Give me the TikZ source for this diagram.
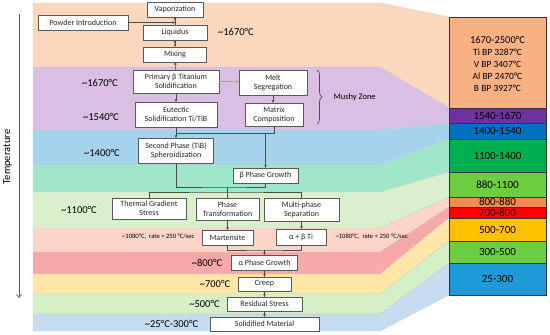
\documentclass[tikz,border=0pt]{standalone}
\usepackage{fontspec}
\setmainfont{Carlito}
\usetikzlibrary{arrows.meta,decorations.pathreplacing}

% band colours (left) and range colours (right)
\definecolor{bandA}{HTML}{FBD7BD}
\definecolor{bandB}{HTML}{D8BFE3}
\definecolor{bandC}{HTML}{A6D3EC}
\definecolor{bandD}{HTML}{A0E6CB}
\definecolor{bandE}{HTML}{DAF0CC}
\definecolor{bandF}{HTML}{FCD5C8}
\definecolor{bandG}{HTML}{F8A8A8}
\definecolor{bandH}{HTML}{FEE6A6}
\definecolor{bandI}{HTML}{D5EFC6}
\definecolor{bandJ}{HTML}{C5DDEF}
\definecolor{rangeA}{HTML}{F8B183}
\definecolor{rangeB}{HTML}{7030A0}
\definecolor{rangeC}{HTML}{0070C0}
\definecolor{rangeD}{HTML}{00B050}
\definecolor{rangeE}{HTML}{6DCD41}
\definecolor{rangeF}{HTML}{F58A4F}
\definecolor{rangeG}{HTML}{FF0000}
\definecolor{rangeH}{HTML}{FFC000}
\definecolor{rangeI}{HTML}{6DCD41}
\definecolor{rangeJ}{HTML}{1E9AD9}

\tikzset{
  stage/.style={draw=black!65,fill=white,align=center,inner sep=1pt,
    font=\fontsize{8}{9}\selectfont,text=black!85},
  link/.style={draw=black!70,line width=0.5pt},
  flow/.style={link,-{Triangle[length=2.4pt,width=2.4pt]}},
  templbl/.style={font=\fontsize{10.5}{12}\selectfont},
  ratelbl/.style={font=\fontsize{6.6}{8}\selectfont},
  rangelbl/.style={font=\fontsize{11}{12}\selectfont},
}

\begin{document}
\begin{tikzpicture}[x=1pt,y=-1pt]
\useasboundingbox (0,0) rectangle (550,335);
% temperature bands
\foreach \lt/\lb/\rt/\rb/\bc/\rc in {3/67/17/108/bandA/rangeA, 67/130/108/123/bandB/rangeB,
  130/165/123/139/bandC/rangeC, 165/192/139/172/bandD/rangeD, 192/228/172/197/bandE/rangeE,
  228/252/197/207/bandF/rangeF, 252/274/207/218/bandG/rangeG, 274/294/218/241/bandH/rangeH,
  294/314/241/263/bandI/rangeI, 314/331/263/295/bandJ/rangeJ}{
  \filldraw[fill=\bc,draw=black!20,line width=0.3pt] (33,\lt) -- (380,\lt) -- (449,\rt) -- (449,\rb) -- (380,\lb) -- (33,\lb) -- cycle;
}
\foreach \rt/\rb/\rc in {17/108/rangeA, 108/123/rangeB, 123/139/rangeC, 139/172/rangeD, 172/197/rangeE,
  197/207/rangeF, 207/218/rangeG, 218/241/rangeH, 241/263/rangeI, 263/295/rangeJ}{
  \filldraw[fill=\rc,draw=black!80,line width=0.6pt] (449,\rt) rectangle (546,\rb);
}
% range labels
\node[align=center,font=\fontsize{9.5}{12}\selectfont] (rA) at (497.5,64) {{\fontsize{10.5}{12}\selectfont 1670-2500°C}\\Ti BP 3287°C\\V BP 3407°C\\Al BP 2470°C\\B BP 3927°C};
\node[rangelbl] (rB) at (497.5,115.5) {1540-1670};
\node[rangelbl] (rC) at (497.5,131) {1400-1540};
\node[rangelbl] (rD) at (497.5,155.5) {1100-1400};
\node[rangelbl] (rE) at (497.5,184.5) {880-1100};
\node[rangelbl] (rF) at (497.5,202) {800-880};
\node[rangelbl] (rG) at (497.5,212.5) {700-800};
\node[rangelbl] (rH) at (497.5,229.5) {500-700};
\node[rangelbl] (rI) at (497.5,252) {300-500};
\node[rangelbl] (rJ) at (497.5,279) {25-300};
% temperature axis
\coordinate (axtop) at (19,14);
\coordinate (axbot) at (19,298);
\draw[black!65,line width=0.7pt,-{Straight Barb[length=3pt,width=5pt]}] (axtop) -- (axbot);
\node[rotate=90,font=\fontsize{10.5}{12}\selectfont] (templabel) at (7.5,157) {Temperature};
% process stages
\node[stage,minimum width=56pt,minimum height=15pt] (vap) at (175,9.5) {Vaporization};
\node[stage,minimum width=90pt,minimum height=15pt] (powder) at (83,22.5) {Powder Introduction};
\node[stage,minimum width=64pt,minimum height=15pt] (liq) at (175,32.5) {Liquidus};
\node[stage,minimum width=63pt,minimum height=15pt] (mix) at (175,54.5) {Mixing};
\node[stage,minimum width=86pt,minimum height=23pt] (prim) at (176,81.5) {Primary β Titanium\\Solidification};
\node[stage,minimum width=68pt,minimum height=25pt] (melt) at (273,82.5) {Melt\\Segregation};
\node[stage,minimum width=82pt,minimum height=25pt] (eut) at (176,114.5) {Eutectic\\Solidification Ti/TiB};
\node[stage,minimum width=58pt,minimum height=23pt] (matrix) at (274,114.5) {Matrix\\Composition};
\node[stage,minimum width=75pt,minimum height=25pt] (second) at (176,150.5) {Second Phase (TiB)\\Spheroidization};
\node[stage,minimum width=65pt,minimum height=15pt] (betag) at (265.5,175.5) {β Phase Growth};
\node[stage,minimum width=74pt,minimum height=21pt] (thermal) at (149,208.5) {Thermal Gradient\\Stress};
\node[stage,minimum width=63pt,minimum height=22pt] (phase) at (227.5,209) {Phase\\Transformation};
\node[stage,minimum width=75pt,minimum height=23pt] (multi) at (301.5,209.5) {Multi-phase\\Separation};
\node[stage,minimum width=51pt,minimum height=15pt] (mart) at (227.5,237.5) {Martensite};
\node[stage,minimum width=50pt,minimum height=16pt] (ab) at (301,237) {α + β Ti};
\node[stage,minimum width=66pt,minimum height=15pt] (alphag) at (264.5,262.5) {α Phase Growth};
\node[stage,minimum width=53pt,minimum height=14pt] (creep) at (264.5,284) {Creep};
\node[stage,minimum width=75pt,minimum height=14pt] (resid) at (264.5,304) {Residual Stress};
\node[stage,minimum width=109pt,minimum height=14pt] (solid) at (264.5,324) {Solidified Material};
% temperature labels
\node[templbl] (tA) at (236,32) {\textasciitilde1670°C};
\node[templbl] (tB) at (100,83) {\textasciitilde1670°C};
\node[templbl] (tC) at (101,117) {\textasciitilde1540°C};
\node[templbl] (tD) at (102,153) {\textasciitilde1400°C};
\node[templbl] (tE) at (79,210) {\textasciitilde1100°C};
\node[ratelbl,anchor=east] (rateF) at (198,237) {\textasciitilde1080°C,\ \ rate > 250 °C/sec};
\node[ratelbl,anchor=west] (rateS) at (332,237) {\textasciitilde1080°C,\ \ rate < 250 °C/sec};
\node[templbl] (tF) at (207,263) {\textasciitilde800°C};
\node[templbl] (tG) at (215,284) {\textasciitilde700°C};
\node[templbl] (tH) at (204.5,304) {\textasciitilde500°C};
\node[templbl] (tI) at (171.5,324) {\textasciitilde25°C-300°C};
% mushy zone
\draw[link,line width=0.7pt,decorate,decoration={brace,amplitude=5pt}] (317,70) -- (317,124);
\node[anchor=west,font=\fontsize{8.5}{9}\selectfont] (mushy) at (330,97) {Mushy Zone};
% connectors
\draw[flow] (powder.east) -- (powder.east -| liq.north);
\draw[flow] (liq) -- (vap);
\draw[link,{Triangle[length=2.4pt,width=2.4pt]}-{Triangle[length=2.4pt,width=2.4pt]}] (liq) -- (mix);
\draw[flow] (prim) -- (mix);
\draw[flow,draw=black!35] (prim.east) -- (prim.east -| melt.west);
\draw[flow] (prim) -- (eut);
\draw[flow] (melt.south) -- (melt.south |- matrix.north);
\coordinate (j1) at (176,133);
\draw[link] (matrix.south) |- (j1);
\draw[flow] (eut) -- (second);
\draw[flow] (betag.north |- j1) -- (betag.north);
\coordinate (j2) at (227.5,187);
\draw[link] (second.south) |- (j2) -| (betag.south);
\coordinate (j3) at (227.5,192);
\draw[link] (j2) -- (j3);
\draw[link] (thermal.north) |- (j3) -| (multi.north);
\draw[link] (j3) -- (phase.north);
\draw[flow] (phase) -- (mart);
\draw[flow] (multi.south) -- (multi.south |- ab.north);
\coordinate (j4) at (264.5,250);
\draw[link] (mart.south) |- (j4) -| (ab.south);
\draw[flow] (j4) -- (alphag.north);
\draw[flow] (alphag) -- (creep);
\draw[flow] (creep) -- (resid);
\draw[flow] (resid) -- (solid);
\end{tikzpicture}
\end{document}
